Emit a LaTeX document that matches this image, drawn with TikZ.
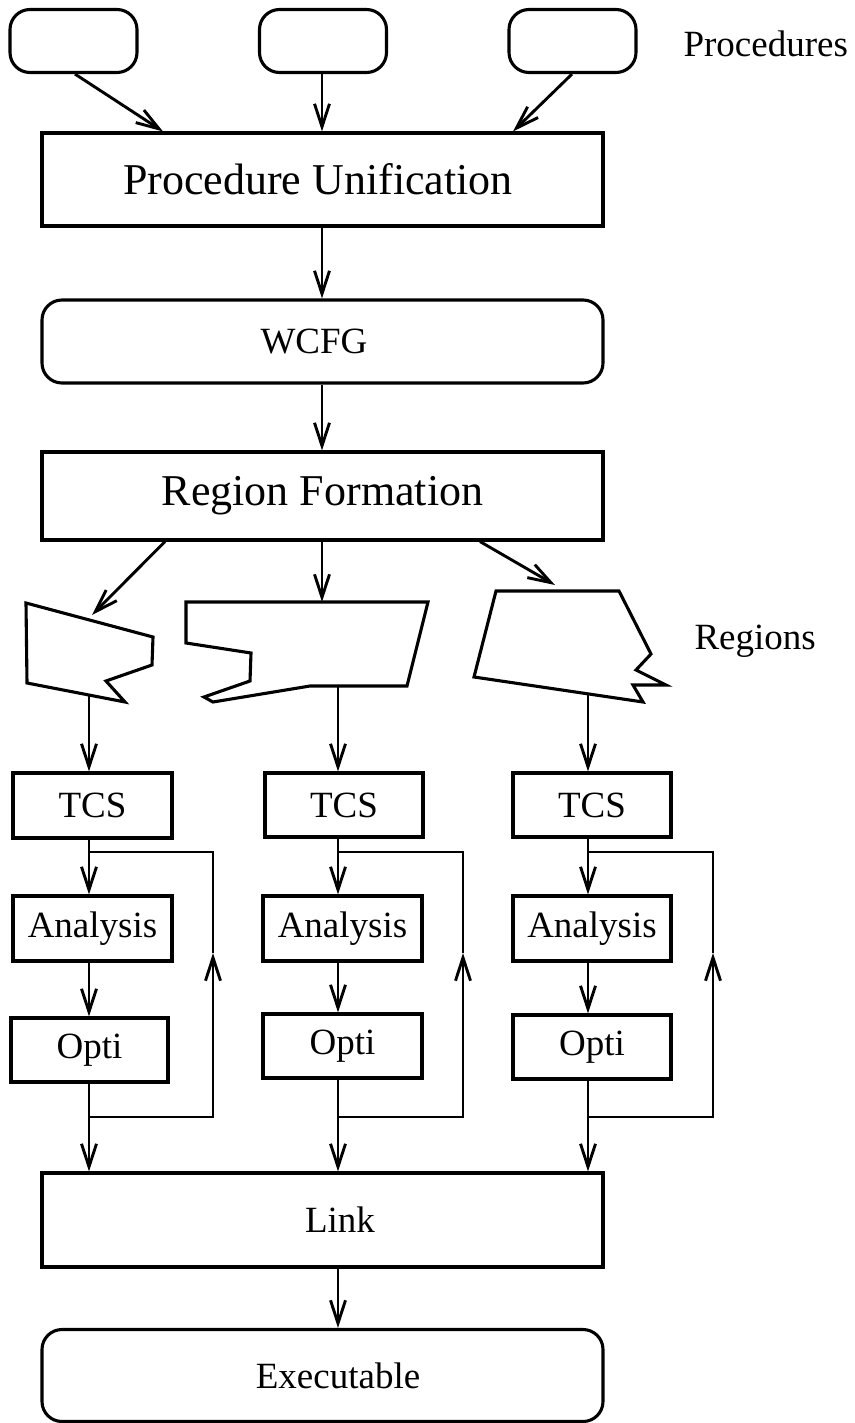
\documentclass[tikz,border=0pt]{standalone}
\usepackage{fontspec}
\setmainfont{Liberation Serif}
\usetikzlibrary{arrows.meta}
\begin{document}
\begin{tikzpicture}[x=1pt,y=-1pt,line width=3.1pt,
  box/.style={draw,rectangle,inner sep=0pt,line width=3.1pt},
  rbox/.style={box,rounded corners=20pt},
  big/.style={font=\fontsize{44}{50}\selectfont},
  small/.style={font=\fontsize{37}{42}\selectfont},
  flow/.style={-{Straight Barb[length=23pt,width=15pt]},line width=2.9pt},
  wire/.style={line width=2.9pt},
  region/.style={draw,line width=3.1pt,line join=miter}]
\useasboundingbox (0,0) rectangle (854,1423);

% input procedures
\node[rbox,minimum width=127pt,minimum height=63pt] (p1) at (73.5,41) {};
\node[rbox,minimum width=127pt,minimum height=63pt] (p2) at (323,41) {};
\node[rbox,minimum width=127pt,minimum height=63pt] (p3) at (572.5,41) {};
\node[anchor=base west,small,inner sep=0pt] (plabel) at (682,57) {Procedures};

% main pipeline
\node[box,big,minimum width=561pt,minimum height=93pt] (pu) at (322.5,179.5) {Procedure Unification\hspace*{9pt}};
\node[rbox,small,minimum width=561pt,minimum height=83pt] (wcfg) at (322.5,341.5) {WCFG\hspace*{17pt}};
\node[box,big,minimum width=561pt,minimum height=88pt] (rf) at (322.5,496) {Region Formation};

\draw[flow] (75,0 |- p1.south) -- (163,0 |- pu.north);
\draw[flow] (322,0 |- p2.south) -- (322,0 |- pu.north);
\draw[flow] (572,0 |- p3.south) -- (513,0 |- pu.north);
\draw[flow] (322,0 |- pu.south) -- (322,0 |- wcfg.north);
\draw[flow] (322,0 |- wcfg.south) -- (322,0 |- rf.north);

% regions
\draw[region] (26,603) -- (153,637) -- (152,665) -- (106,681) -- (125,702) -- (27,683) -- cycle;
\draw[region] (186,602) -- (428,602) -- (407,686) -- (310,686) -- (213,702) -- (204,697)
  -- (250,681) -- (251,653) -- (186,643) -- cycle;
\draw[region] (496,591) -- (619,591) -- (651,654) -- (636,670) -- (666,685) -- (633,685)
  -- (643,702) -- (474,677) -- cycle;
\node[anchor=base west,small,inner sep=0pt] (rlabel) at (693,649) {Regions};

\coordinate (r1in) at (92,615);
\coordinate (r2in) at (322,602);
\coordinate (r3in) at (555,585);
\coordinate (r1out) at (89,695);
\coordinate (r2out) at (338,686);
\coordinate (r3out) at (588,694);

\draw[flow] (165,0 |- rf.south) -- (r1in);
\draw[flow] (322,0 |- rf.south) -- (r2in);
\draw[flow] (480,0 |- rf.south) -- (r3in);

% per-region optimisation columns
\node[box,small,minimum width=159pt,minimum height=65pt] (t1) at (92.5,805.5) {TCS};
\node[box,small,minimum width=159pt,minimum height=65pt] (a1) at (92.5,928.5) {Analysis};
\node[box,small,minimum width=157pt,minimum height=64pt] (o1) at (89.5,1050) {Opti};

\node[box,small,minimum width=158pt,minimum height=64pt] (t2) at (344,805) {TCS};
\node[box,small,minimum width=159pt,minimum height=65pt] (a2) at (342.5,928.5) {Analysis};
\node[box,small,minimum width=159pt,minimum height=64pt] (o2) at (342.5,1046) {Opti};

\node[box,small,minimum width=158pt,minimum height=64pt] (t3) at (592,805) {TCS};
\node[box,small,minimum width=158pt,minimum height=65pt] (a3) at (592,928.5) {Analysis};
\node[box,small,minimum width=158pt,minimum height=64pt] (o3) at (592,1047) {Opti};

% link and result
\node[box,small,minimum width=561pt,minimum height=94pt] (link) at (322.5,1220) {\hspace*{35pt}Link};
\node[rbox,small,minimum width=561pt,minimum height=92pt] (exe) at (322.5,1375.5) {\hspace*{31pt}Executable};
\draw[flow] (338,0 |- link.south) -- (338,0 |- exe.north);

% column connectors
\foreach \c/\x/\fx in {1/89/213, 2/338/463, 3/588/713}{
  \coordinate (s\c) at (\x,852);
  \coordinate (j\c) at (\x,1117);
  \coordinate (ft\c) at (\fx,852);
  \coordinate (fb\c) at (\fx,1117);
  \coordinate (fm\c) at (\fx,953);
  \draw[flow] (r\c out) -- (\x,0 |- t\c.north);
  \draw[flow] (\x,0 |- t\c.south) -- (\x,0 |- a\c.north);
  \draw[flow] (\x,0 |- a\c.south) -- (\x,0 |- o\c.north);
  \draw[flow] (\x,0 |- o\c.south) -- (\x,0 |- link.north);
  \draw[wire] (s\c) -- (ft\c) -- (fm\c);
  \draw[flow] (j\c) -- (fb\c) -- (fm\c);
}
\end{tikzpicture}
\end{document}
